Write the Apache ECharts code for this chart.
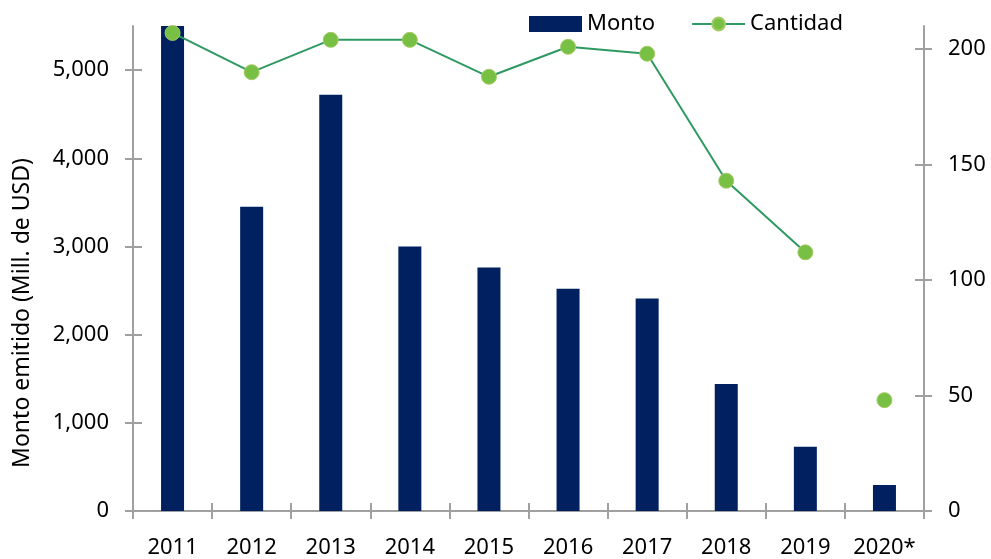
<!DOCTYPE html>
<html>
<head>
<meta charset="utf-8">
<script src="https://cdn.jsdelivr.net/npm/echarts@6/dist/echarts.min.js"></script>
<style>
  html, body { margin: 0; padding: 0; background: #fff; }
  #myChart { width: 991px; height: 559px; }
</style>
</head>
<body>
<div id="myChart"></div>
<script>
const years = ['2011', '2012', '2013', '2014', '2015', '2016', '2017', '2018', '2019', '2020*'];
const monto = [5500, 3450, 4720, 3000, 2760, 2520, 2410, 1440, 730, 295];
const cantidad = [207, 190, 204, 204, 188, 201, 198, 143, 112, 48];
const leftTicks = [0, 1000, 2000, 3000, 4000, 5000];
const rightTicks = [0, 50, 100, 150, 200];
// last point is shown on its own, not joined to 2019
const lastJoined = 8;

const font = 'Noto Sans';
const axisGrey = '#a0a0a0';

const myChart = echarts.init(document.getElementById('myChart'));

const lineData = cantidad.map((v, i) => (i <= lastJoined ? v : null));
const lonePoints = cantidad.map((v, i) => (i > lastJoined ? v : null));

const pointStyle = {
    color: '#78c044',
    borderColor: '#a6c964',
    borderWidth: 1
};

function valueAxis(max, ticks, position, inside) {
    return {
        type: 'value',
        min: 0,
        max: max,
        position: position,
        splitLine: { show: false },
        axisLine: { show: !inside, lineStyle: { color: axisGrey, width: 2 } },
        axisTick: {
            show: true,
            inside: inside,
            length: inside ? 9 : 8,
            customValues: ticks,
            lineStyle: { color: axisGrey, width: 2 }
        },
        axisLabel: {
            show: !inside,
            color: '#000',
            fontSize: 22,
            margin: 24,
            customValues: ticks,
            formatter: v => v.toLocaleString('en-US')
        }
    };
}

const option = {
    animation: false,
    textStyle: { fontFamily: font },
    grid: { left: 133, right: 67, top: 26, bottom: 47 },
    legend: {
        left: 529,
        top: 13,
        padding: 0,
        itemWidth: 53,
        itemHeight: 16,
        itemGap: 36,
        textStyle: { fontFamily: font, fontSize: 22, color: '#000' },
        data: [
            { name: 'Monto', icon: 'rect' },
            { name: 'Cantidad' }
        ]
    },
    graphic: [{
        type: 'text',
        x: 22,
        y: 313,
        rotation: Math.PI / 2,
        style: {
            text: 'Monto emitido (Mill. de USD)',
            font: '23px "Noto Sans"',
            fill: '#000',
            align: 'center',
            verticalAlign: 'middle'
        }
    }],
    xAxis: [
        {
            type: 'category',
            data: years,
            axisLine: { lineStyle: { color: axisGrey, width: 2 } },
            axisTick: { show: true, length: 8, lineStyle: { color: axisGrey, width: 2 } },
            axisLabel: { color: '#000', fontSize: 22, margin: 26, interval: 0 }
        },
        {
            type: 'category',
            data: years,
            position: 'bottom',
            axisLine: { show: false },
            axisTick: { show: true, inside: true, length: 8, lineStyle: { color: axisGrey, width: 2 } },
            axisLabel: { show: false }
        }
    ],
    yAxis: [
        valueAxis(5500, leftTicks, 'left', false),
        valueAxis(210, rightTicks, 'right', false),
        valueAxis(5500, leftTicks, 'left', true),
        valueAxis(210, rightTicks, 'right', true)
    ],
    series: [
        {
            name: 'Monto',
            type: 'bar',
            data: monto,
            barWidth: 23,
            yAxisIndex: 0,
            itemStyle: { color: '#002060' }
        },
        {
            name: 'Cantidad',
            type: 'line',
            data: lineData,
            yAxisIndex: 1,
            symbol: 'circle',
            symbolSize: 15,
            showAllSymbol: true,
            lineStyle: { color: '#2e9a62', width: 2 },
            itemStyle: pointStyle,
            z: 5
        },
        {
            name: 'Cantidad',
            type: 'line',
            data: lonePoints,
            yAxisIndex: 1,
            symbol: 'circle',
            symbolSize: 15,
            showAllSymbol: true,
            lineStyle: { color: '#2e9a62', width: 2 },
            itemStyle: pointStyle,
            z: 5
        }
    ]
};

myChart.setOption(option);
</script>
</body>
</html>
